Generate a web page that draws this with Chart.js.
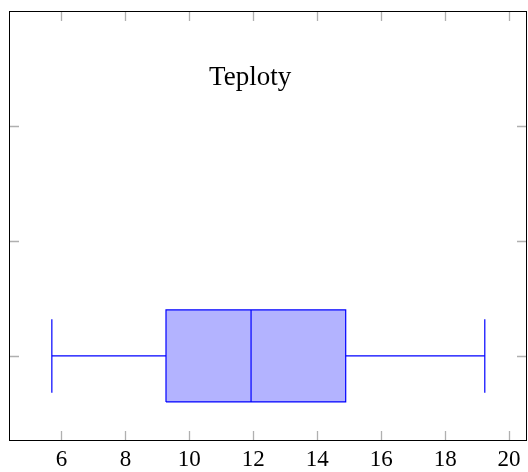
<!DOCTYPE html>
<html>
<head>
<meta charset="utf-8">
<script src="https://cdn.jsdelivr.net/npm/chart.js@4"></script>
<style>
  html, body { margin: 0; padding: 0; background: #fff; }
  #wrap { width: 528px; height: 472px; }
</style>
</head>
<body>
<div id="wrap"><canvas id="chart"></canvas></div>
<script>
'use strict';

// box plot data
const categories = ['Teploty'];
const positions = [1];
const whiskerLow = [5.7];
const quartile1 = [9.27];
const medians = [11.93];
const quartile3 = [14.89];
const whiskerHigh = [19.24];

const xTicks = [6, 8, 10, 12, 14, 16, 18, 20];
const yTicks = [1, 2, 3];

const BLUE = '#0000ff';
const FILL = '#b3b3ff';
const boxHalf = 0.4;
const capHalf = 0.32;

const datasets = [];
categories.forEach((name, i) => {
    const p = positions[i];
    const line = (pts) => ({
        data: pts, showLine: true, borderColor: BLUE, borderWidth: 1.2,
        pointRadius: 0, fill: false, order: 0
    });
    // the box goes underneath everything else (higher order = drawn first)
    datasets.push({
        data: [
            { x: quartile1[i], y: p - boxHalf }, { x: quartile3[i], y: p - boxHalf },
            { x: quartile3[i], y: p + boxHalf }, { x: quartile1[i], y: p + boxHalf },
            { x: quartile1[i], y: p - boxHalf }
        ],
        showLine: true, borderColor: BLUE, borderWidth: 1.2, backgroundColor: FILL,
        pointRadius: 0, fill: 'shape', order: 1
    });
    datasets.push(line([{ x: medians[i], y: p - boxHalf }, { x: medians[i], y: p + boxHalf }]));
    datasets.push(line([{ x: whiskerLow[i], y: p }, { x: quartile1[i], y: p }]));
    datasets.push(line([{ x: quartile3[i], y: p }, { x: whiskerHigh[i], y: p }]));
    datasets.push(line([{ x: whiskerLow[i], y: p - capHalf }, { x: whiskerLow[i], y: p + capHalf }]));
    datasets.push(line([{ x: whiskerHigh[i], y: p - capHalf }, { x: whiskerHigh[i], y: p + capHalf }]));
});

// axis frame, inner ticks on all four sides, and the label node
const framePlugin = {
    id: 'frame',
    afterDatasetsDraw(chart) {
        const { ctx, chartArea: a, scales: { x, y } } = chart;
        ctx.save();
        ctx.strokeStyle = '#b0b0b0';
        ctx.lineWidth = 1.3;
        const len = 10;
        xTicks.forEach(v => {
            const px = Math.round(x.getPixelForValue(v)) + 0.5;
            ctx.beginPath();
            ctx.moveTo(px, a.bottom); ctx.lineTo(px, a.bottom - len);
            ctx.moveTo(px, a.top); ctx.lineTo(px, a.top + len);
            ctx.stroke();
        });
        yTicks.forEach(v => {
            const py = Math.round(y.getPixelForValue(v)) + 0.5;
            ctx.beginPath();
            ctx.moveTo(a.left, py); ctx.lineTo(a.left + len, py);
            ctx.moveTo(a.right, py); ctx.lineTo(a.right - len, py);
            ctx.stroke();
        });
        ctx.strokeStyle = '#000';
        ctx.lineWidth = 1;
        ctx.strokeRect(a.left + 0.5, a.top + 0.5, a.right - a.left - 1, a.bottom - a.top - 1);

        ctx.fillStyle = '#000';
        ctx.font = '27px "Liberation Serif", serif';
        ctx.textAlign = 'center';
        ctx.textBaseline = 'alphabetic';
        categories.forEach((name, i) => {
            ctx.fillText(name, x.getPixelForValue(11.9), y.getPixelForValue(positions[i] + 2.36));
        });
        ctx.restore();
    }
};

new Chart(document.getElementById('chart'), {
    type: 'scatter',
    data: { datasets: datasets },
    options: {
        responsive: true,
        maintainAspectRatio: false,
        animation: false,
        layout: { padding: { left: 9, right: 1, top: 11, bottom: 0 } },
        plugins: { legend: { display: false }, tooltip: { enabled: false } },
        scales: {
            x: {
                type: 'linear', min: 4.36, max: 20.56,
                afterBuildTicks: s => { s.ticks = xTicks.map(v => ({ value: v })); },
                afterFit: s => { s.height = 31; },
                grid: { display: false, drawTicks: false },
                border: { display: false },
                ticks: {
                    color: '#000', padding: 5, maxRotation: 0,
                    font: { family: '"Liberation Serif", serif', size: 23 }
                }
            },
            y: {
                type: 'linear', min: 0.26, max: 4,
                afterBuildTicks: s => { s.ticks = yTicks.map(v => ({ value: v })); },
                afterFit: s => { s.width = 0; },
                grid: { display: false, drawTicks: false },
                border: { display: false },
                ticks: { display: false }
            }
        }
    },
    plugins: [framePlugin]
});
</script>
</body>
</html>
